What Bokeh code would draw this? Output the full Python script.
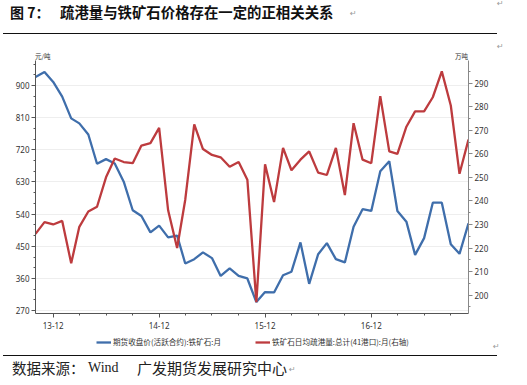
import pandas as pd
from bokeh.plotting import figure
from bokeh.models import (Range1d, LinearAxis, FixedTicker, Legend, LegendItem,
                          DatetimeTickFormatter, Div)
from bokeh.layouts import column
from bokeh.embed import file_html
from bokeh.resources import INLINE

# Monthly series, Oct 2013 - Nov 2017
months = pd.date_range("2013-10-01", periods=50, freq="MS")

# Iron ore futures close (active contract), yuan/ton
price = [924, 938, 910, 869, 808, 794, 763, 681, 694, 682,
         631, 551, 535, 489, 508, 475, 480, 402, 414, 433,
         417, 367, 388, 367, 360, 294, 322, 321, 369, 379,
         461, 345, 428, 459, 414, 405, 505, 554, 549, 660,
         688, 549, 519, 426, 473, 572, 572, 456, 429, 514]

# Average daily port shipments, 41 ports, 10k tons (right axis)
shipments = [226, 231, 230, 231.5, 213.5, 229, 235.5, 237.5, 250, 258,
             256.5, 256, 263.5, 264.5, 271, 236, 220, 240.5, 272.5, 262,
             259.5, 258.5, 254.5, 256.5, 249, 197, 255.5, 239.5, 262.5, 253,
             257.5, 261, 252, 251, 262.5, 242.5, 273, 257.5, 256, 284.5,
             261, 260, 271.5, 278, 278, 284, 295, 280.5, 251.5, 266]

series_names = ["期货收盘价(活跃合约):铁矿石:月", "铁矿石日均疏港量:总计(41港口):月(右轴)"]
left_ticks = list(range(270, 901, 90))
right_ticks = list(range(200, 291, 10))
x_tick_dates = ["2013-12-01", "2014-12-01", "2015-12-01", "2016-12-01"]

BLUE = "#3f6eab"
RED = "#bd3b3e"
LINE_W = 2.3
TICK_FONT = "Noto Sans"
CJK = "'Noto Sans CJK SC'"
W = 527


def ms(d):
    return pd.Timestamp(d).timestamp() * 1000


def span(text, left, cy, size, lh=20, weight="normal", color="#111", family=CJK):
    top = cy - lh / 2
    return (f'<span style="position:absolute;left:{left}px;top:{top}px;line-height:{lh}px;'
            f'font-family:{family};font-size:{size}px;font-weight:{weight};color:{color};'
            f'white-space:nowrap;">{text}</span>')


def rule(top):
    return (f'<div style="position:absolute;left:3px;top:{top}px;width:494px;height:1.4px;'
            f'background:#111;"></div>')


MARK = "&#8629;"

# ---------- header: title, rule and unit captions ----------
head_html = (
    '<div style="position:relative;width:527px;height:60px;">'
    + span("图 7：", 10, 12, 14, weight="bold")
    + span("疏港量与铁矿石价格存在一定的正相关关系", 60, 12, 14.4, weight="bold")
    + span(MARK, 350, 14, 8, lh=10, color="#999", family="'DejaVu Sans'")
    + span(MARK, 497, 4, 8, lh=10, color="#999", family="'DejaVu Sans'")
    + span(MARK, 497, 47, 8, lh=10, color="#999", family="'DejaVu Sans'")
    + rule(32.5)
    + span("元/吨", 35, 56, 6.5, lh=8, color="#333")
    + span("万吨", 455, 56, 6.5, lh=8, color="#333")
    + '</div>'
)
head = Div(text=head_html, width=W, height=60, margin=0)

# ---------- main chart ----------
p = figure(width=W, height=272, x_axis_type="datetime",
           x_range=Range1d(months[0], months[-1]), y_range=Range1d(262, 970),
           output_backend="svg", toolbar_location=None,
           min_border_left=35, min_border_right=59, min_border_top=0, min_border_bottom=19)
p.outline_line_color = None
p.background_fill_color = "white"
p.border_fill_color = "white"
p.extra_y_ranges = {"vol": Range1d(192.2, 299.6)}

right = LinearAxis(y_range_name="vol")
p.add_layout(right, "right")

p.yaxis[0].ticker = FixedTicker(ticks=left_ticks, minor_ticks=list(range(270, 961, 30)))
right.ticker = FixedTicker(ticks=right_ticks, minor_ticks=list(range(195, 300, 5)))

quarter = pd.date_range("2013-12-01", "2017-11-01", freq="3MS")
p.xaxis[0].ticker = FixedTicker(ticks=[ms(d) for d in x_tick_dates],
                                minor_ticks=[ms(d) for d in quarter])
fmt = "%y-%m"
p.xaxis[0].formatter = DatetimeTickFormatter(milliseconds=fmt, seconds=fmt, minsec=fmt, minutes=fmt,
                                             hourmin=fmt, hours=fmt, days=fmt, months=fmt, years=fmt)

for ax in p.xaxis + p.yaxis:
    ax.major_label_text_font = TICK_FONT
    ax.major_label_text_font_size = "8px"
    ax.major_label_text_color = "#333"
    ax.major_tick_out = 4
    ax.major_tick_in = 0
    ax.minor_tick_out = 2
    ax.minor_tick_in = 0
    ax.axis_line_color = "#555"
    ax.major_tick_line_color = "#555"
    ax.minor_tick_line_color = "#555"
    ax.major_label_standoff = 2
p.xaxis[0].major_label_standoff = 4
right.axis_line_color = "#888"
right.major_tick_line_color = "#888"
right.minor_tick_line_color = "#888"

p.xgrid.visible = False
p.ygrid.ticker = FixedTicker(ticks=left_ticks)
p.ygrid.grid_line_color = "#eeeeee"

p.line(months, price, line_color=BLUE, line_width=LINE_W)
p.line(months, shipments, line_color=RED, line_width=LINE_W, y_range_name="vol")

# ---------- legend strip under the chart ----------
lg = figure(width=W, height=20, x_range=Range1d(0, 1), y_range=Range1d(0, 1),
            output_backend="svg", toolbar_location=None,
            min_border_left=35, min_border_right=59, min_border_top=0, min_border_bottom=0,
            x_axis_location=None, y_axis_location=None)
lg.grid.visible = False
lg.outline_line_color = None
# key renderers sit outside the strip's range, so only their legend swatches show
key_price = lg.line(x=[-5, -4], y=[-5, -5], line_color=BLUE, line_width=LINE_W)
key_ship = lg.line(x=[-5, -4], y=[-5, -5], line_color=RED, line_width=LINE_W)
legend = Legend(items=[LegendItem(label=series_names[0], renderers=[key_price]),
                       LegendItem(label=series_names[1], renderers=[key_ship])],
                location=(61, 5), orientation="horizontal",
                label_text_font="Noto Sans CJK SC", label_text_font_size="7.6px",
                label_text_color="#333",
                glyph_width=15, glyph_height=10, label_height=10, label_standoff=2,
                spacing=34, padding=0, margin=0,
                border_line_color=None, background_fill_alpha=0)
lg.add_layout(legend, "center")

# ---------- footer: rule and source ----------
foot_html = (
    '<div style="position:relative;width:527px;height:45px;">'
    + span(MARK, 493, 7, 8, lh=10, color="#999", family="'DejaVu Sans'")
    + rule(14.5)
    + span("数据来源：", 12, 28, 14.5, color="#222")
    + span("Wind", 88, 28, 14, color="#222", family="'Liberation Serif'")
    + span("广发期货发展研究中心", 137, 28, 15, color="#222")
    + span(MARK, 289, 30, 8, lh=10, color="#999", family="'DejaVu Sans'")
    + '</div>'
)
foot = Div(text=foot_html, width=W, height=45, margin=(-12, 0, 0, 0))

layout = column(head, p, lg, foot, spacing=0)
open("out.html", "w").write(file_html(layout, INLINE))
